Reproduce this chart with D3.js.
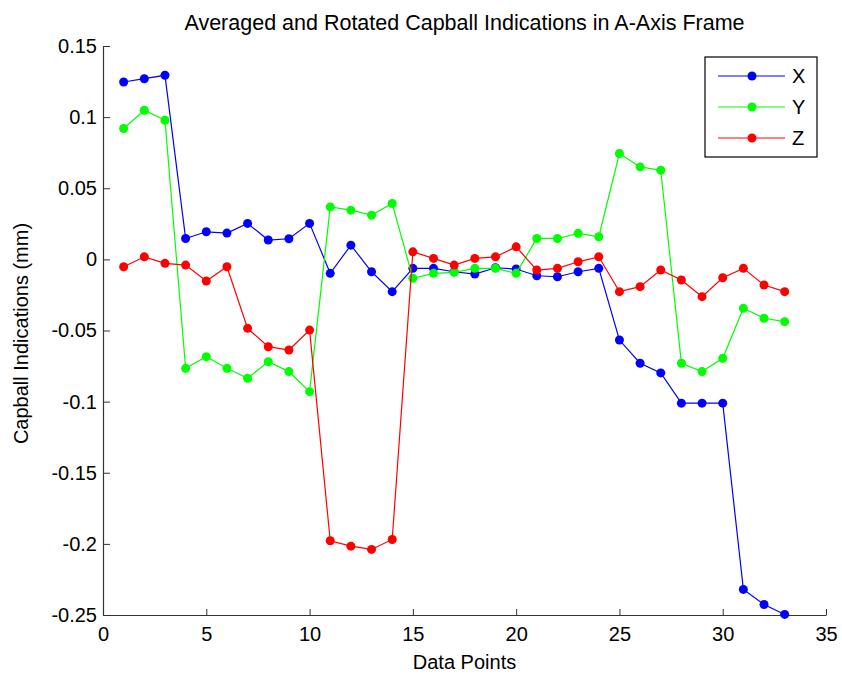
<!DOCTYPE html>
<html>
<head>
<meta charset="utf-8">
<script src="https://cdnjs.cloudflare.com/ajax/libs/d3/7.8.5/d3.min.js"></script>
<style>
  body { margin: 0; background: #fff; }
  .plot-wrap { width: 842px; height: 676px; }
  text { font-family: "Liberation Sans", Arial, sans-serif; fill: #000; }
</style>
</head>
<body>
<div class="plot-wrap"></div>
<script>
// data
var dataPoints = [1, 2, 3, 4, 5, 6, 7, 8, 9, 10, 11, 12, 13, 14, 15, 16, 17,
  18, 19, 20, 21, 22, 23, 24, 25, 26, 27, 28, 29, 30, 31, 32, 33];
var seriesX = [0.1247, 0.127, 0.1294, 0.0147, 0.0194, 0.0185, 0.0253, 0.0136, 0.0145, 0.0253,
  -0.0098, 0.010, -0.0087, -0.0227, -0.0063, -0.0063, -0.0087, -0.0103, -0.0059, -0.0068,
  -0.0115, -0.0122, -0.0087, -0.0063, -0.0567, -0.073, -0.0798, -0.1011, -0.1011, -0.1011,
  -0.232, -0.2426, -0.2496];
var seriesY = [0.092, 0.1048, 0.0978, -0.0766, -0.0684, -0.0766, -0.0836, -0.0719, -0.0789, -0.093,
  0.0369, 0.0346, 0.0311, 0.0393, -0.0133, -0.0098, -0.0091, -0.0063, -0.0063, -0.0098,
  0.0147, 0.0147, 0.0183, 0.0159, 0.0744, 0.065, 0.0627, -0.073, -0.0789, -0.0695,
  -0.0344, -0.0414, -0.0438];
var seriesZ = [-0.0052, 0.0018, -0.0028, -0.004, -0.0152, -0.0052, -0.0485, -0.0614, -0.0637, -0.0497,
  -0.1978, -0.2016, -0.2039, -0.1969, 0.0053, 0.0007, -0.004, 0.0007, 0.0018, 0.0088,
  -0.0075, -0.0063, -0.0017, 0.0018, -0.0227, -0.0192, -0.0075, -0.0145, -0.0262, -0.0129,
  -0.0063, -0.018, -0.0227];
var seriesNames = ['X', 'Y', 'Z'];
var seriesColors = ['#0000ff', '#00ff00', '#ff0000'];
var xTicks = [0, 5, 10, 15, 20, 25, 30, 35];
var yTicks = [0.15, 0.1, 0.05, 0, -0.05, -0.1, -0.15, -0.2, -0.25];

var CapballChart = function(opts){
  this.element = opts.elem;
  this.series = opts.series;
}

CapballChart.prototype.draw = function(){
  this.margin = { top: 46, left: 103, right: 16, bottom: 61 };
  this.width = 842 - this.margin.left - this.margin.right;
  this.height = 676 - this.margin.top - this.margin.bottom;

  this.element.innerHTML = '';
  this.svg = d3.select(this.element).append('svg')
    .attr('width', 842)
    .attr('height', 676);

  this.plot = this.svg.append('g')
    .attr('transform', `translate(${this.margin.left},${this.margin.top})`);

  this.createScales();
  this.addAxes();
  this.addLines();
  this.addLabels();
  this.addLegend();
}

CapballChart.prototype.createScales = function(){
  this.xScale = d3.scaleLinear().domain([0, 35]).range([0, this.width]);
  this.yScale = d3.scaleLinear().domain([-0.25, 0.15]).range([this.height, 0]);
}

CapballChart.prototype.addAxes = function(){
  var fmt = function(d){ return String(+d.toFixed(2)); };

  this.plot.append('g')
    .attr('class', 'x-axis')
    .attr('transform', 'translate(0,' + this.height + ')')
    .call(d3.axisBottom(this.xScale).tickValues(xTicks).tickFormat(fmt)
      .tickSize(-6).tickSizeOuter(0).tickPadding(12));

  this.plot.append('g')
    .attr('class', 'y-axis')
    .call(d3.axisLeft(this.yScale).tickValues(yTicks).tickFormat(fmt)
      .tickSize(-7).tickSizeOuter(0).tickPadding(6));

  this.plot.selectAll('.domain').attr('stroke', '#333').attr('stroke-width', 1.2);
  this.plot.selectAll('.tick line').attr('stroke', '#333');
  this.plot.selectAll('.tick text')
    .attr('font-size', '20px')
    .attr('font-family', '"Liberation Sans", Arial, sans-serif')
    .attr('fill', '#000');
}

CapballChart.prototype.addLines = function(){
  var self = this;
  var lineGen = d3.line()
    .x(function(d, i){ return self.xScale(dataPoints[i]); })
    .y(function(d){ return self.yScale(d); });

  this.series.forEach(function(s){
    var g = self.plot.append('g').attr('class', 'series');
    g.append('path')
      .attr('d', lineGen(s.values))
      .attr('fill', 'none')
      .attr('stroke', s.color)
      .attr('stroke-width', 1.2);
    g.selectAll('circle')
      .data(s.values)
      .enter()
      .append('circle')
      .attr('cx', function(d, i){ return self.xScale(dataPoints[i]); })
      .attr('cy', function(d){ return self.yScale(d); })
      .attr('r', 4.5)
      .attr('fill', s.color);
  });
}

CapballChart.prototype.addLabels = function(){
  var cx = this.margin.left + this.width / 2;
  var cy = this.margin.top + this.height / 2;

  this.svg.append('text')
    .attr('x', cx).attr('y', 30)
    .attr('text-anchor', 'middle')
    .attr('font-size', '21.5px')
    .text('Averaged and Rotated Capball Indications in A-Axis Frame');

  this.svg.append('text')
    .attr('x', cx).attr('y', 669)
    .attr('text-anchor', 'middle')
    .attr('font-size', '20px')
    .text('Data Points');

  this.svg.append('text')
    .attr('transform', 'translate(28,' + (cy + 3) + ') rotate(-90)')
    .attr('text-anchor', 'middle')
    .attr('font-size', '20px')
    .text('Capball Indications (mm)');
}

CapballChart.prototype.addLegend = function(){
  var legend = this.svg.append('g').attr('class', 'legend')
    .attr('transform', 'translate(705,57)');

  legend.append('rect')
    .attr('width', 112).attr('height', 100)
    .attr('fill', '#fff')
    .attr('stroke', '#000')
    .attr('stroke-width', 1.2);

  var rows = legend.selectAll('.legend-row')
    .data(this.series)
    .enter()
    .append('g')
    .attr('class', 'legend-row')
    .attr('transform', function(d, i){ return 'translate(0,' + (19 + i * 31) + ')'; });

  rows.append('line')
    .attr('x1', 13).attr('x2', 80)
    .attr('stroke', function(d){ return d.color; })
    .attr('stroke-width', 1.2);
  rows.append('circle')
    .attr('cx', 47).attr('r', 4.5)
    .attr('fill', function(d){ return d.color; });
  rows.append('text')
    .attr('x', 87).attr('dy', '0.36em')
    .attr('font-size', '20px')
    .text(function(d){ return d.name; });
}

var chart = new CapballChart({
  elem: document.querySelector('.plot-wrap'),
  series: [
    { name: seriesNames[0], color: seriesColors[0], values: seriesX },
    { name: seriesNames[1], color: seriesColors[1], values: seriesY },
    { name: seriesNames[2], color: seriesColors[2], values: seriesZ }
  ]
});
chart.draw();
</script>
</body>
</html>
